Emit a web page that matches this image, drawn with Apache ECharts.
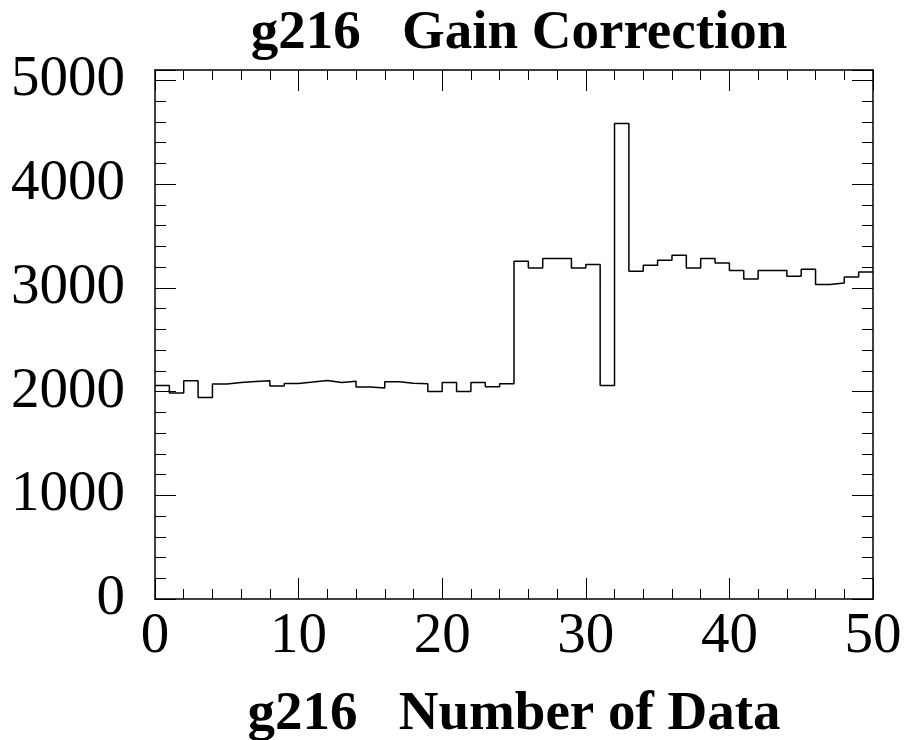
<!DOCTYPE html>
<html><head><meta charset="utf-8">
<script src="https://cdn.jsdelivr.net/npm/echarts@6/dist/echarts.min.js"></script>
<style>html,body{margin:0;padding:0;background:#fff}#c{width:904px;height:740px}</style>
</head><body><div id="c"></div>
<script>
const title = 'g216   Gain Correction';
const xTitle = 'g216   Number of Data';
const binEdges = [0,1,2,3,4,5,6,7,8,9,10,11,12,13,14,15,16,17,18,19,20,21,22,23,24,25,26,27,28,29,30,31,32,33,34,35,36,37,38,39,40,41,42,43,44,45,46,47,48,49,50];
const counts = [2059,1985,2104,1943,2072,2088,2098,2104,2053,2078,2091,2107,2088,2100,2043,2034,2094,2081,2075,2001,2088,2001,2088,2046,2075,3256,3192,3282,3282,3192,3224,2059,4585,3160,3218,3266,3314,3192,3282,3240,3166,3086,3166,3166,3111,3179,3031,3047,3105,3153];
const yTicks = [0,1000,2000,3000,4000,5000];
const xTicks = [0,10,20,30,40,50];

const data = binEdges.map((e,i)=>[e, counts[Math.min(i, counts.length-1)]]);
const font = '"Liberation Serif","DejaVu Serif",serif';
const chart = echarts.init(document.getElementById('c'));
const line = {show:true,onZero:false,lineStyle:{color:'#000',width:1.5}};
const tick = {show:true,inside:true,length:21,lineStyle:{color:'#000'}};
chart.setOption({
  animation:false,
  title:{text:title,left:514,textAlign:'center',top:1,textStyle:{fontFamily:font,fontWeight:'bold',fontSize:55,color:'#000'}},
  grid:{left:155,right:31,top:70,bottom:141,outerBoundsMode:'none',containLabel:false},
  xAxis:[
    {type:'value',min:0,max:50,interval:10,position:'bottom',axisLine:line,splitLine:{show:false},
      axisTick:tick,
      minorTick:{show:true,splitNumber:5,length:10,lineStyle:{color:'#000'}},
      axisLabel:{fontFamily:font,fontSize:57,color:'#000',margin:10,formatter:v=>xTicks.includes(v)?String(v):''},
      name:xTitle,nameLocation:'middle',nameGap:88,
      nameTextStyle:{fontFamily:font,fontWeight:'bold',fontSize:55,color:'#000'}},
    {type:'value',min:0,max:50,interval:10,position:'top',axisLine:line,splitLine:{show:false},
      axisTick:tick,
      minorTick:{show:true,splitNumber:5,length:10,lineStyle:{color:'#000'}},
      axisLabel:{show:false}}
  ],
  yAxis:[
    {type:'value',min:0,max:5100,interval:1000,position:'left',axisLine:line,splitLine:{show:false},
      axisTick:tick,
      minorTick:{show:true,splitNumber:5,length:11,lineStyle:{color:'#000'}},
      axisLabel:{fontFamily:font,fontSize:57,color:'#000',margin:30,formatter:v=>yTicks.includes(v)?String(v):''}},
    {type:'value',min:0,max:5100,interval:1000,position:'right',axisLine:line,splitLine:{show:false},
      axisTick:tick,
      minorTick:{show:true,splitNumber:5,length:11,lineStyle:{color:'#000'}},
      axisLabel:{show:false}}
  ],
  series:[{type:'line',step:'end',data:data,xAxisIndex:0,yAxisIndex:0,symbol:'none',
    lineStyle:{color:'#000',width:1.5},z:5}]
});
</script></body></html>
